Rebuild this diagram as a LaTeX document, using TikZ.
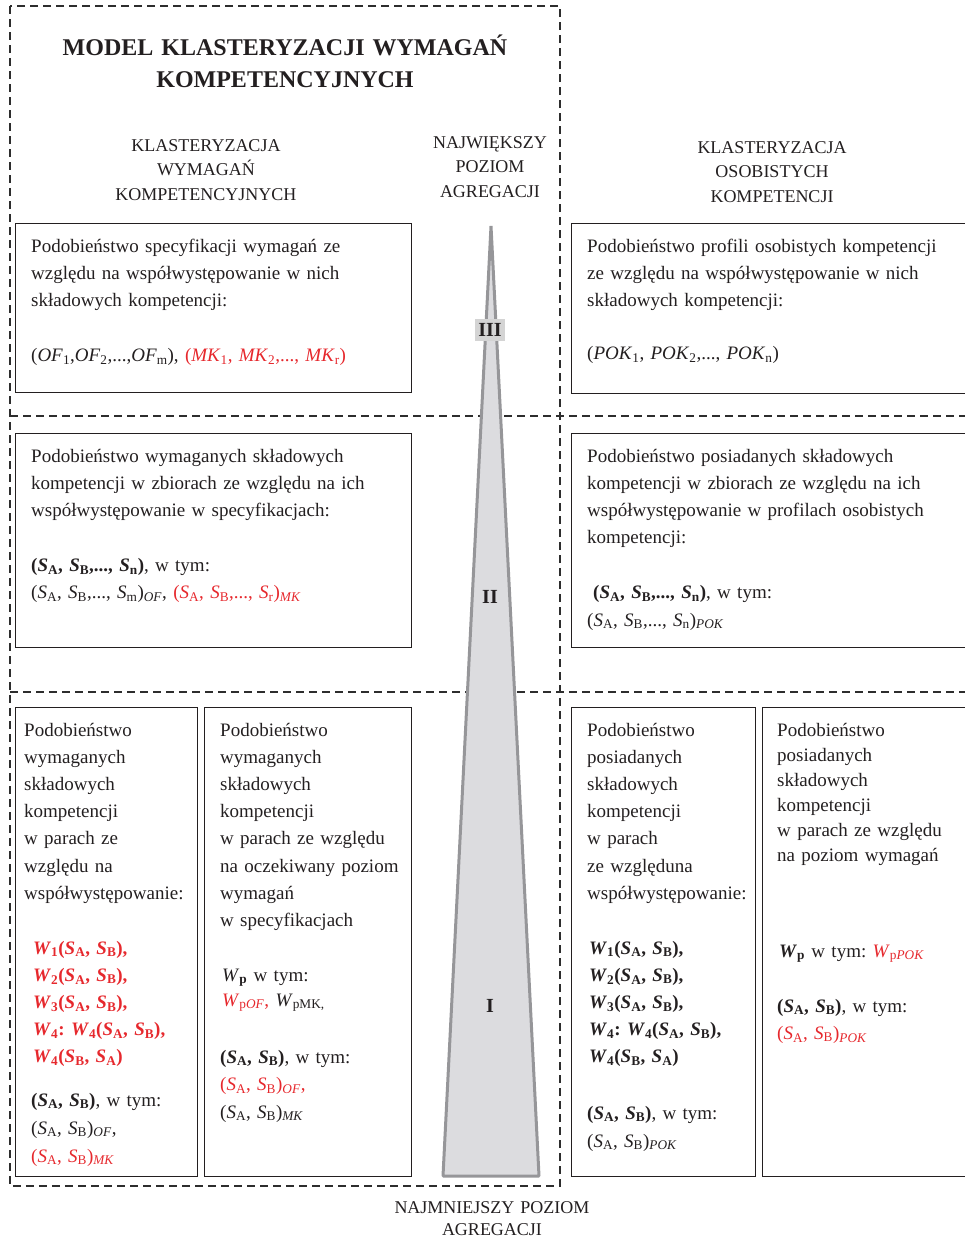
\documentclass[tikz,border=0pt]{standalone}
\usepackage{fontspec}
\setmainfont{Liberation Serif}
\frenchspacing

\definecolor{ink}{RGB}{35,31,32}
\definecolor{accent}{RGB}{230,40,45}
\definecolor{dashgray}{RGB}{45,45,45}
\definecolor{conefill}{RGB}{220,220,223}
\definecolor{coneedge}{RGB}{150,150,153}
\definecolor{tagfill}{RGB}{212,212,212}

% symbols used in the formulas
\newcommand\Sx[1]{\textit{S}\textsubscript{#1}}
\newcommand\bS[1]{\textbf{\textit{S}\textsubscript{#1}}}
\newcommand\bW[1]{\textbf{\textit{W}\textsubscript{#1}}}

\tikzset{
  panel/.style={draw=ink, line width=1.4pt, anchor=north west, inner sep=0pt},
  body/.style={anchor=base west, align=left, inner sep=0pt, text=ink,
    text width=420pt, font=\fontsize{19}{27.2}\selectfont},
  head/.style={anchor=base, align=center, inner sep=0pt, text=ink,
    text width=260pt, font=\fontsize{18}{24.5}\selectfont},
  sep/.style={dashgray, line width=1.3pt, dash pattern=on 8pt off 5pt},
  cone/.style={fill=conefill, draw=coneedge, line width=3pt, line join=bevel},
  level/.style={inner sep=0pt, text=ink, font=\fontsize{20}{20}\selectfont\bfseries},
}

\begin{document}
\begin{tikzpicture}[x=1pt,y=-1pt]
\useasboundingbox (0,0) rectangle (965,1237);
\clip (0,0) rectangle (965,1237);

% dashed frame of the requirements side and the level separators
\draw[sep] (10,6) rectangle (560,1186);
\draw[sep] (10,416) -- (965,416);
\draw[sep] (10,692) -- (965,692);

% aggregation cone
\coordinate (apex) at (491,226);
\coordinate (baseR) at (539,1176);
\coordinate (baseL) at (443,1176);
\draw[cone] (apex) -- (baseR) -- (baseL) -- cycle;
\node[level, fill=tagfill, minimum width=30pt, minimum height=22pt] (lvl3) at (490,330) {III};
\node[level] (lvl2) at (490,597) {II};
\node[level] (lvl1) at (490,1006) {I};

% title and column headings
\node[anchor=base, align=center, inner sep=0pt, text=ink, text width=520pt,
      font=\fontsize{24}{32}\selectfont\bfseries] (title) at (285,55)
  {MODEL KLASTERYZACJI WYMAGAŃ\\KOMPETENCYJNYCH};
\node[head] (hleft) at (206,151) {KLASTERYZACJA\\WYMAGAŃ\\KOMPETENCYJNYCH};
\node[head] (hmid) at (490,148) {NAJWIĘKSZY\\POZIOM\\AGREGACJI};
\node[head] (hright) at (772,153) {KLASTERYZACJA\\OSOBISTYCH\\KOMPETENCJI};
\node[head, font=\fontsize{18}{22}\selectfont] (hbottom) at (492,1213) {NAJMNIEJSZY POZIOM\\AGREGACJI};

% panels
\node[panel, minimum width=396pt, minimum height=169pt] (ptl) at (15,223) {};
\node[panel, minimum width=410pt, minimum height=170pt] (ptr) at (571,223) {};
\node[panel, minimum width=396pt, minimum height=214pt] (pml) at (15,433) {};
\node[panel, minimum width=410pt, minimum height=214pt] (pmr) at (571,433) {};
\node[panel, minimum width=182pt, minimum height=469pt] (pbl1) at (15,707) {};
\node[panel, minimum width=207pt, minimum height=469pt] (pbl2) at (204,707) {};
\node[panel, minimum width=184pt, minimum height=469pt] (pbr1) at (571,707) {};
\node[panel, minimum width=220pt, minimum height=469pt] (pbr2) at (762,707) {};

% level III
\node[body] (ttl) at (31,252) {Podobieństwo specyfikacji wymagań ze\\
  względu na współwystępowanie w nich\\
  składowych kompetencji:\\[28pt]
  (\textit{OF}\textsubscript{1},\textit{OF}\textsubscript{2},...,\textit{OF}\textsubscript{m}),
  \textcolor{accent}{(\textit{MK}\textsubscript{1}, \textit{MK}\textsubscript{2},..., \textit{MK}\textsubscript{r})}};
\node[body] (ttr) at (587,252) {Podobieństwo profili osobistych kompetencji\\
  ze względu na współwystępowanie w nich\\
  składowych kompetencji:\\[26pt]
  (\textit{POK}\textsubscript{1}, \textit{POK}\textsubscript{2},..., \textit{POK}\textsubscript{n})};

% level II
\node[body] (tml) at (31,462) {Podobieństwo wymaganych składowych\\
  kompetencji w zbiorach ze względu na ich\\
  współwystępowanie w specyfikacjach:\\[28pt]
  {\bfseries(\bS{A}, \bS{B},..., \bS{n})}, w tym:\\
  (\Sx{A}, \Sx{B},..., \Sx{m})\textsubscript{\textit{OF}},
  \textcolor{accent}{(\Sx{A}, \Sx{B},..., \Sx{r})\textsubscript{\textit{MK}}}};
\node[body] (tmr) at (587,462) {Podobieństwo posiadanych składowych\\
  kompetencji w zbiorach ze względu na ich\\
  współwystępowanie w profilach osobistych\\
  kompetencji:\\[28pt]
  \hspace*{6pt}{\bfseries(\bS{A}, \bS{B},..., \bS{n})}, w tym:\\
  (\Sx{A}, \Sx{B},..., \Sx{n})\textsubscript{\textit{POK}}};

% level I, requirements side
\node[body] (tbl1) at (24,736) {Podobieństwo\\ wymaganych\\ składowych\\ kompetencji\\
  w parach ze\\ względu na\\ współwystępowanie:};
\node[body, text=accent, font=\fontsize{19}{27.2}\selectfont\bfseries] (wbl1) at (33,954)
  {\bW{1}(\bS{A}, \bS{B}),\\ \bW{2}(\bS{A}, \bS{B}),\\ \bW{3}(\bS{A}, \bS{B}),\\
   \bW{4}: \bW{4}(\bS{A}, \bS{B}),\\ \bW{4}(\bS{B}, \bS{A})};
\node[body, font=\fontsize{19}{28}\selectfont] (sbl1) at (31,1106)
  {{\bfseries(\bS{A}, \bS{B})}, w tym:\\
   (\Sx{A}, \Sx{B})\textsubscript{\textit{OF}},\\
   \textcolor{accent}{(\Sx{A}, \Sx{B})\textsubscript{\textit{MK}}}};

\node[body] (tbl2) at (220,736) {Podobieństwo\\ wymaganych\\ składowych\\ kompetencji\\
  w parach ze względu\\ na oczekiwany poziom\\ wymagań\\ w specyfikacjach};
\node[body, font=\fontsize{19}{25}\selectfont] (wbl2) at (222,981)
  {\textit{W}\textsubscript{\textbf{p}} w tym:\\
   \textcolor{accent}{\textit{W}\textsubscript{p\textit{OF}},} \textit{W}\textsubscript{pMK,}};
\node[body, font=\fontsize{19}{27.5}\selectfont] (sbl2) at (220,1063)
  {{\bfseries(\bS{A}, \bS{B})}, w tym:\\
   \textcolor{accent}{(\Sx{A}, \Sx{B})\textsubscript{\textit{OF}},}\\
   (\Sx{A}, \Sx{B})\textsubscript{\textit{MK}}};

% level I, competence side
\node[body] (tbr1) at (587,736) {Podobieństwo\\ posiadanych\\ składowych\\ kompetencji\\
  w parach\\ ze względuna\\ współwystępowanie:};
\node[body, font=\fontsize{19}{27.2}\selectfont\bfseries] (wbr1) at (589,954)
  {\bW{1}(\bS{A}, \bS{B}),\\ \bW{2}(\bS{A}, \bS{B}),\\ \bW{3}(\bS{A}, \bS{B}),\\
   \bW{4}: \bW{4}(\bS{A}, \bS{B}),\\ \bW{4}(\bS{B}, \bS{A})};
\node[body, font=\fontsize{19}{28}\selectfont] (sbr1) at (587,1119)
  {{\bfseries(\bS{A}, \bS{B})}, w tym:\\
   (\Sx{A}, \Sx{B})\textsubscript{\textit{POK}}};

\node[body, font=\fontsize{19}{25}\selectfont] (tbr2) at (777,736) {Podobieństwo\\ posiadanych\\ składowych\\ kompetencji\\
  w parach ze względu\\ na poziom wymagań};
\node[body] (wbr2) at (779,957)
  {\bW{p} w tym: \textcolor{accent}{\textit{W}\textsubscript{p\textit{POK}}}};
\node[body] (sbr2) at (777,1012)
  {{\bfseries(\bS{A}, \bS{B})}, w tym:\\
   \textcolor{accent}{(\Sx{A}, \Sx{B})\textsubscript{\textit{POK}}}};
\end{tikzpicture}
\end{document}
